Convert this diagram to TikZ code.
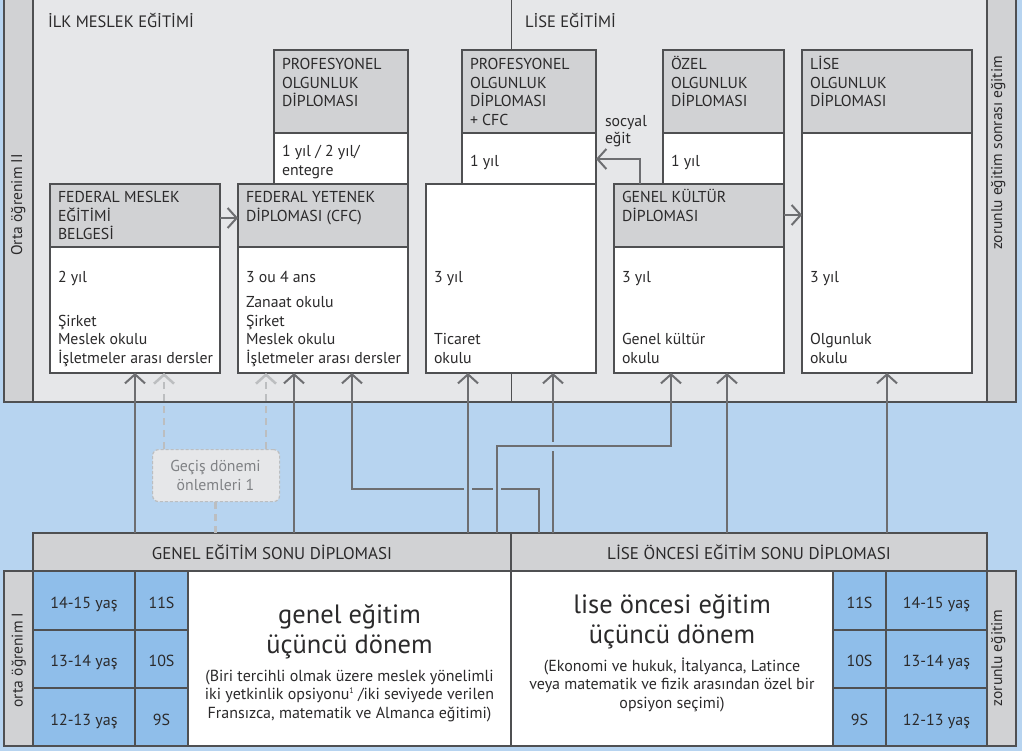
\documentclass[tikz,border=0pt]{standalone}
\usepackage{fontspec}
\setmainfont{PT Sans}
\usetikzlibrary{arrows.meta,calc}
\definecolor{bgblue}{HTML}{B7D4F0}
\definecolor{cellblue}{HTML}{8FBEEA}
\definecolor{panel}{HTML}{E6E7E9}
\definecolor{hdr}{HTML}{D1D2D4}
\definecolor{edge}{HTML}{4F5052}
\definecolor{arrg}{HTML}{6D6E71}
\definecolor{lightg}{HTML}{BCBEC0}
\definecolor{txt}{HTML}{2B2A2B}
\definecolor{gtxt}{HTML}{808285}
\newcommand{\fst}{\rule{0pt}{15pt}}
\newcommand{\bst}{\rule{0pt}{24pt}}
\newcommand{\tinysup}[1]{\raisebox{6pt}{\fontsize{8}{8}\selectfont #1}}
\begin{document}
\begin{tikzpicture}[x=1pt,y=-1pt,
  box/.style={draw=edge, line width=1.2pt, anchor=north west, inner sep=0pt, outer sep=0pt},
  hbox/.style={box, fill=hdr},
  wbox/.style={box, fill=white},
  cbox/.style={box, fill=cellblue},
  tx/.style={font=\fontsize{15.8}{18.5}\selectfont, text=txt, inner sep=0pt, outer sep=0pt, align=left, anchor=north west},
  one/.style={font=\fontsize{15.8}{18.5}\selectfont, text=txt, inner sep=0pt, outer sep=0pt, anchor=base west},
  cen/.style={font=\fontsize{16}{18.5}\selectfont, text=txt, inner sep=0pt, outer sep=0pt, anchor=base},
  bar/.style={font=\fontsize{17}{18.5}\selectfont, text=txt, inner sep=0pt, outer sep=0pt, anchor=base},
  big/.style={font=\fontsize{26.5}{30}\selectfont, text=txt, inner sep=0pt, align=center, anchor=north},
  small/.style={font=\fontsize{16}{18.5}\selectfont, text=txt, inner sep=0pt, align=center, anchor=north},
  side/.style={font=\fontsize{15.5}{18.5}\selectfont, text=txt, inner sep=0pt, rotate=90, anchor=base},
  arr/.style={draw=arrg, line width=2pt, -{Straight Barb[length=9pt,width=20pt]}},
  darr/.style={draw=lightg, line width=2.5pt, dash pattern=on 7pt off 5pt, -{Straight Barb[length=9pt,width=20pt]}},
  dline/.style={draw=lightg, line width=2.5pt, dash pattern=on 7pt off 5pt},
  knock/.style={draw=bgblue, line width=4.5pt}
]
\useasboundingbox (0,0) rectangle (1022,751);
\fill[bgblue] (0,0) rectangle (1022,751);

% ---------- upper panel ----------
\draw[edge, line width=1.2pt, fill=panel] (4,-5) rectangle (1016,402);
\draw[edge, line width=1.2pt, fill=hdr] (4,-5) rectangle (33,402);
\draw[edge, line width=1.2pt, fill=hdr] (987,-5) rectangle (1016,402);
\draw[edge, line width=1pt] (511,-5) -- (511,402);
\node[one, font=\fontsize{16.5}{18.5}\selectfont] (t1) at (48,28) {İLK MESLEK EĞİTİMİ};
\node[one, font=\fontsize{16.5}{18.5}\selectfont] (t2) at (525,28) {LİSE EĞİTİMİ};
\node[side] (s1) at (22,205) {Orta öğrenim II};
\node[side] (s2) at (1002,153) {zorunlu eğitim sonrası eğitim};

% upper boxes
\node[hbox, minimum width=134pt, minimum height=83pt] (P1h) at (274,50) {};
\node[wbox, minimum width=134pt, minimum height=51pt] (P1b) at (274,133) {};
\node[hbox, minimum width=134pt, minimum height=83pt] (P2h) at (462,50) {};
\node[wbox, minimum width=134pt, minimum height=51pt] (P2b) at (462,133) {};
\node[hbox, minimum width=121pt, minimum height=83pt] (P3h) at (663,50) {};
\node[wbox, minimum width=121pt, minimum height=51pt] (P3b) at (663,133) {};
\node[hbox, minimum width=170pt, minimum height=83pt] (Eh) at (802,50) {};
\node[wbox, minimum width=170pt, minimum height=240pt] (Eb) at (802,133) {};

\node[hbox, minimum width=170pt, minimum height=63pt] (Ah) at (50,184) {};
\node[wbox, minimum width=170pt, minimum height=126pt] (Ab) at (50,247) {};
\node[hbox, minimum width=170pt, minimum height=63pt] (Bh) at (238,184) {};
\node[wbox, minimum width=170pt, minimum height=126pt] (Bb) at (238,247) {};
\node[wbox, minimum width=170pt, minimum height=189pt] (Cb) at (426,184) {};
\node[hbox, minimum width=170pt, minimum height=63pt] (Dh) at (614,184) {};
\node[wbox, minimum width=170pt, minimum height=126pt] (Db) at (614,247) {};

% box texts
\node[tx] (tP1h) at (282,55) {\fst PROFESYONEL\\OLGUNLUK\\DİPLOMASI};
\node[tx] (tP1b) at (282,142) {\fst 1 yıl / 2 yıl/\\entegre};
\node[tx] (tP2h) at (470,55) {\fst PROFESYONEL\\OLGUNLUK\\DİPLOMASI\\+ CFC};
\node[one] (tP2b) at (470,167) {1 yıl};
\node[tx] (tP3h) at (671,55) {\fst ÖZEL\\OLGUNLUK\\DİPLOMASI};
\node[one] (tP3b) at (671,167) {1 yıl};
\node[tx] (tEh) at (810,55) {\fst LİSE\\OLGUNLUK\\DİPLOMASI};
\node[one] (tEb1) at (810,282) {3 yıl};
\node[tx] (tEb2) at (810,329.5) {\fst Olgunluk\\okulu};

\node[tx] (tAh) at (58,188) {\fst FEDERAL MESLEK\\EĞİTİMİ\\BELGESİ};
\node[one] (tAb1) at (58,282) {2 yıl};
\node[tx] (tAb2) at (58,311) {\fst Şirket\\Meslek okulu\\İşletmeler arası dersler};
\node[tx] (tBh) at (246,188) {\fst FEDERAL YETENEK\\DİPLOMASI (CFC)};
\node[one] (tBb1) at (246,282) {3 ou 4 ans};
\node[tx] (tBb2) at (246,292.5) {\fst Zanaat okulu\\Şirket\\Meslek okulu\\İşletmeler arası dersler};
\node[one] (tCb1) at (434,282) {3 yıl};
\node[tx] (tCb2) at (434,329.5) {\fst Ticaret\\okulu};
\node[tx] (tDh) at (622,188) {\fst GENEL KÜLTÜR\\DİPLOMASI};
\node[one] (tDb1) at (622,282) {3 yıl};
\node[tx] (tDb2) at (622,329.5) {\fst Genel kültür\\okulu};
\node[tx, font=\fontsize{15.8}{17}\selectfont] (soc) at (605,112) {\fst socyal\\eğit};

% horizontal arrows
\draw[arr] (Ah.east |- 0,218) -- (Bh.west |- 0,218);
\draw[arr] (Dh.east |- 0,215) -- (Eh.west |- 0,215);
\coordinate (x640) at (640,0);
\draw[arr] (x640 |- Dh.north) -- (640,159) -- (P2b.east |- 0,159);

% ---------- bottom headers ----------
\node[hbox, minimum width=478pt, minimum height=38pt] (barL) at (33,533) {};
\node[hbox, minimum width=476pt, minimum height=38pt] (barR) at (511,533) {};
\node[bar] (tbarL) at (272,559) {GENEL EĞİTİM SONU DİPLOMASI};
\node[bar] (tbarR) at (749,559) {LİSE ÖNCESİ EĞİTİM SONU DİPLOMASI};

% ---------- Geçiş box ----------
\node[draw=lightg, line width=1.2pt, dash pattern=on 3pt off 2pt, fill=panel, rounded corners=6pt,
      anchor=north west, inner sep=0pt, minimum width=127pt, minimum height=52pt] (G) at (152,449) {};
\node[tx, align=center, anchor=north, text=gtxt] (tG) at (215.5,456.7) {\fst Geçiş dönemi\\önlemleri 1};

% ---------- vertical connectors ----------
\coordinate (x135) at (135,0);
\coordinate (x164) at (164,0);
\coordinate (x215) at (215.5,0);
\coordinate (x266) at (266,0);
\coordinate (x294) at (294,0);
\coordinate (x352) at (352,0);
\coordinate (x468) at (468,0);
\coordinate (x497) at (497,0);
\coordinate (x539) at (539,0);
\coordinate (x553) at (553,0);
\coordinate (x671) at (671,0);
\coordinate (x727) at (727,0);
\coordinate (x887) at (887,0);

\draw[darr] (x164 |- G.north) -- (x164 |- Ab.south);
\draw[darr] (x266 |- G.north) -- (x266 |- Bb.south);
\draw[dline] (x215 |- barL.north) -- (x215 |- G.south);

\draw[arr] (x135 |- barL.north) -- (x135 |- Ab.south);
\draw[arr] (x294 |- barL.north) -- (x294 |- Bb.south);
\draw[arr] (x539 |- barR.north) -- (539,489) -- (352,489) -- (x352 |- Bb.south);
\draw[knock] (464,489) -- (472,489);
\draw[knock] (493,489) -- (501,489);
\draw[arr] (x468 |- barL.north) -- (x468 |- Cb.south);
\draw[arr] (x553 |- barR.north) -- (x553 |- Cb.south);
\draw[knock] (553,441.5) -- (553,450.5);
\draw[arr] (x497 |- barL.north) -- (497,446) -- (671,446) -- (x671 |- Db.south);
\draw[arr] (x727 |- barR.north) -- (x727 |- Db.south);
\draw[arr] (x887 |- barR.north) -- (x887 |- Eb.south);

% ---------- bottom table ----------
\node[hbox, minimum width=29pt, minimum height=175pt] (stL) at (4,571) {};
\node[hbox, minimum width=29pt, minimum height=175pt] (stR) at (987,571) {};
\node[cbox, minimum width=102pt, minimum height=59pt] (aL1) at (33,571) {};
\node[cbox, minimum width=102pt, minimum height=58pt] (aL2) at (33,630) {};
\node[cbox, minimum width=102pt, minimum height=58pt] (aL3) at (33,688) {};
\node[cbox, minimum width=53pt, minimum height=59pt] (sL1) at (135,571) {};
\node[cbox, minimum width=53pt, minimum height=58pt] (sL2) at (135,630) {};
\node[cbox, minimum width=53pt, minimum height=58pt] (sL3) at (135,688) {};
\node[wbox, minimum width=323pt, minimum height=175pt] (wL) at (188,571) {};
\node[wbox, minimum width=322pt, minimum height=175pt] (wR) at (511,571) {};
\node[cbox, minimum width=53pt, minimum height=59pt] (sR1) at (833,571) {};
\node[cbox, minimum width=53pt, minimum height=58pt] (sR2) at (833,630) {};
\node[cbox, minimum width=53pt, minimum height=58pt] (sR3) at (833,688) {};
\node[cbox, minimum width=101pt, minimum height=59pt] (aR1) at (886,571) {};
\node[cbox, minimum width=101pt, minimum height=58pt] (aR2) at (886,630) {};
\node[cbox, minimum width=101pt, minimum height=58pt] (aR3) at (886,688) {};

\node[cen] (taL1) at (84,608) {14-15 yaş};
\node[cen] (taL2) at (84,666) {13-14 yaş};
\node[cen] (taL3) at (84,725) {12-13 yaş};
\node[cen] (tsL1) at (161.5,608) {11S};
\node[cen] (tsL2) at (161.5,666) {10S};
\node[cen] (tsL3) at (161.5,725) {9S};
\node[cen] (tsR1) at (859.5,608) {11S};
\node[cen] (tsR2) at (859.5,666) {10S};
\node[cen] (tsR3) at (859.5,725) {9S};
\node[cen] (taR1) at (936.5,608) {14-15 yaş};
\node[cen] (taR2) at (936.5,666) {13-14 yaş};
\node[cen] (taR3) at (936.5,725) {12-13 yaş};

\node[big] (bL) at (349.5,599) {\bst genel eğitim\\üçüncü dönem};
\node[small] (smL) at (349.5,666) {\fst (Biri tercihli olmak üzere meslek yönelimli\\iki yetkinlik opsiyonu\tinysup{1} /iki seviyede verilen\\Fransızca, matematik ve Almanca eğitimi)};
\node[big] (bR) at (672,589) {\bst lise öncesi eğitim\\üçüncü dönem};
\node[small] (smR) at (672,656) {\fst (Ekonomi ve hukuk, İtalyanca, Latince\\veya matematik ve fizik arasından özel bir\\opsiyon seçimi)};

\node[side] (s3) at (22.5,660) {orta öğrenim I};
\node[side] (s4) at (1002,658) {zorunlu eğitim};
\end{tikzpicture}
\end{document}
